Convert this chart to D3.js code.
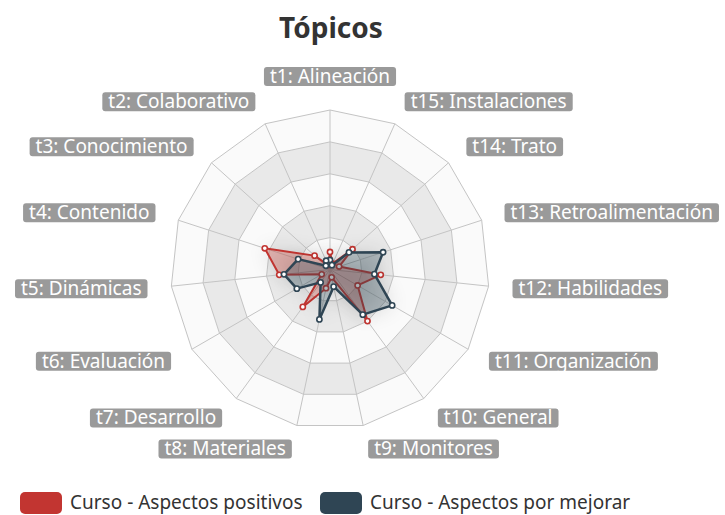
<!DOCTYPE html>
<html>
<head>
<meta charset="utf-8">
<script src="https://cdn.jsdelivr.net/npm/d3@7"></script>
<style>
  body { margin: 0; background: #fff; }
  text { font-family: "Noto Sans", "Open Sans", sans-serif; }
</style>
</head>
<body>
<svg id="chart" width="725" height="515"></svg>
<script>
// radar data, values out of maxValue
const indicators = ['t1: Alineación', 't2: Colaborativo', 't3: Conocimiento', 't4: Contenido',
  't5: Dinámicas', 't6: Evaluación', 't7: Desarrollo', 't8: Materiales', 't9: Monitores',
  't10: General', 't11: Organización', 't12: Habilidades', 't13: Retroalimentación',
  't14: Trato', 't15: Instalaciones'];
const maxValue = 100;
const positivos = [11, 3, 13, 43, 32, 6, 29, 12, 5, 40, 20, 32, 6, 19, 4];
const porMejorar = [6, 6, 3.5, 21, 29, 24, 10, 32, 11, 35, 45, 28, 35, 16, 3];
const seriesNames = ['Curso - Aspectos positivos', 'Curso - Aspectos por mejorar'];
const seriesColors = ['#c23531', '#2f4554'];
const splitNumber = 5;

const svg = d3.select('#chart');
const cx = 330, cy = 269.5, R = 159.5;
const n = indicators.length;
const step = 2 * Math.PI / n;

let r = d3.scaleLinear().domain([0, maxValue]).range([0, R]);
// d3 radial angle: 0 at top, we go counterclockwise
let ang = i => -i * step;
let px = (i, rad) => cx + rad * Math.sin(ang(i));
let py = (i, rad) => cy - rad * Math.cos(ang(i));

svg.append('text')
    .attr('x', cx + 1)
    .attr('y', 38)
    .attr('text-anchor', 'middle')
    .style('font-size', '28px')
    .style('font-weight', 'bold')
    .style('fill', '#333')
    .text('Tópicos');

let defs = svg.append('defs');
let f = defs.append('filter').attr('id', 'shadow')
    .attr('x', '-100%').attr('y', '-100%').attr('width', '300%').attr('height', '300%');
f.append('feDropShadow')
    .attr('dx', 0).attr('dy', 0)
    .attr('stdDeviation', 10)
    .attr('flood-color', '#000')
    .attr('flood-opacity', 0.45);

const chart = svg.append('g').attr('transform', `translate(${cx}, ${cy})`);

let levels = d3.range(1, splitNumber + 1).map(k => maxValue * k / splitNumber);
let ringPath = v => d3.range(n).map(i => [r(v) * Math.sin(ang(i)), -r(v) * Math.cos(ang(i))]);

// split areas
levels.forEach((v, k) => {
    let outer = ringPath(v);
    let inner = k > 0 ? ringPath(levels[k - 1]) : [];
    let d = 'M' + outer.join('L') + 'Z';
    if (inner.length) d += 'M' + inner.reverse().join('L') + 'Z';
    chart.append('path')
        .attr('d', d)
        .attr('fill-rule', 'evenodd')
        .attr('fill', k % 2 == 0 ? '#fafafa' : '#e9e9e9');
});

// split lines
chart.selectAll('.ring')
    .data(levels)
    .enter()
        .append('path')
        .attr('class', 'ring')
        .attr('d', v => 'M' + ringPath(v).join('L') + 'Z')
        .attr('fill', 'none')
        .attr('stroke', '#c4c4c4')
        .attr('stroke-width', 1);

// axis lines
chart.selectAll('.spoke')
    .data(indicators)
    .enter()
        .append('line')
        .attr('class', 'spoke')
        .attr('x1', 0).attr('y1', 0)
        .attr('x2', (d, i) => r(maxValue) * Math.sin(ang(i)))
        .attr('y2', (d, i) => -r(maxValue) * Math.cos(ang(i)))
        .attr('stroke', '#c4c4c4')
        .attr('stroke-width', 1);

// series
let radial = d3.lineRadial()
    .angle((d, i) => ang(i))
    .radius(d => r(d))
    .curve(d3.curveLinearClosed);

[positivos, porMejorar].forEach((vals, s) => {
    let g = chart.append('g');
    g.append('path')
        .datum(vals)
        .attr('d', radial)
        .attr('fill', seriesColors[s])
        .attr('fill-opacity', 0.3)
        .attr('filter', 'url(#shadow)');
    g.append('path')
        .datum(vals)
        .attr('d', radial)
        .attr('fill', 'none')
        .attr('stroke', seriesColors[s])
        .attr('stroke-width', s == 0 ? 2 : 2.5)
        .attr('stroke-linejoin', 'round');
    g.selectAll('circle')
        .data(vals)
        .enter()
            .append('circle')
            .attr('cx', (d, i) => r(d) * Math.sin(ang(i)))
            .attr('cy', (d, i) => -r(d) * Math.cos(ang(i)))
            .attr('r', 2.6)
            .attr('fill', '#fff')
            .attr('stroke', seriesColors[s])
            .attr('stroke-width', 1.6);
});

// indicator names with grey boxes
const nameR = R + 24;
let names = svg.append('g');
indicators.forEach((name, i) => {
    let x = px(i, nameR), y = py(i, nameR);
    let c = Math.sin(ang(i));
    let anchor = Math.abs(c) < 0.01 ? 'middle' : (c > 0 ? 'start' : 'end');
    let g = names.append('g');
    let rect = g.append('rect').attr('rx', 3).attr('fill', '#9a9a9a');
    let t = g.append('text')
        .attr('text-anchor', anchor)
        .style('font-size', '19px')
        .style('fill', '#fff')
        .text(name);
    let pad = 6;
    let w = t.node().getComputedTextLength() + 2 * pad;
    let h = 19;
    let top = Math.abs(c) < 0.01 ? y - h : y - h / 2;
    let left = anchor == 'start' ? x : anchor == 'end' ? x - w : x - w / 2;
    rect.attr('x', left).attr('y', top).attr('width', w).attr('height', h);
    t.attr('x', anchor == 'start' ? x + pad : anchor == 'end' ? x - pad : x)
        .attr('y', top + 16);
});

// legend
let legend = svg.append('g');
let lx = [20, 320];
seriesNames.forEach((name, s) => {
    legend.append('rect')
        .attr('x', lx[s]).attr('y', 492)
        .attr('width', 42).attr('height', 22)
        .attr('rx', 5)
        .attr('fill', seriesColors[s]);
    legend.append('text')
        .attr('x', lx[s] + 50).attr('y', 509)
        .style('font-size', '19px')
        .style('fill', '#333')
        .text(name);
});
</script>
</body>
</html>
